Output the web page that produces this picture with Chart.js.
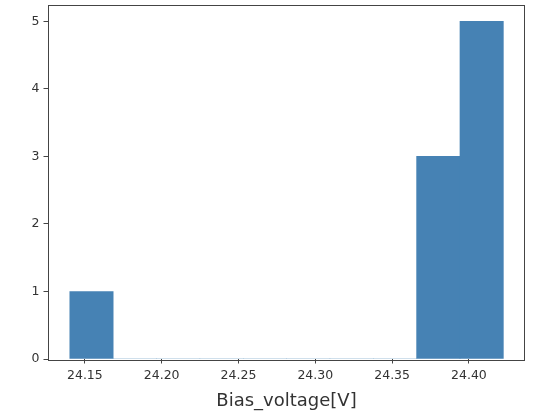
<!DOCTYPE html>
<html>
<head>
<meta charset="utf-8">
<script src="https://cdn.jsdelivr.net/npm/chart.js@4/dist/chart.umd.min.js"></script>
<style>
  html, body { margin: 0; padding: 0; background: #ffffff; }
  #wrap { width: 534px; height: 413px; }
</style>
</head>
<body>
<div id="wrap"><canvas id="c" width="534" height="413"></canvas></div>
<script>
// Histogram of bias voltage readings: 10 equal-width bins.
const binEdges = [24.1402, 24.16842, 24.19664, 24.22486, 24.25308, 24.2813,
                  24.30952, 24.33774, 24.36596, 24.39418, 24.4224];
const counts = [1, 0, 0, 0, 0, 0, 0, 0, 3, 5];
const xTicks = [24.15, 24.20, 24.25, 24.30, 24.35, 24.40];
const yTicks = [0, 1, 2, 3, 4, 5];
const xTitle = 'Bias_voltage[V]';

const points = counts.map((c, i) => ({ x: (binEdges[i] + binEdges[i + 1]) / 2, y: c }));

const FONT = 'DejaVu Sans';
const INK = '#333333';
const SPINE = '#444444';

// Draw the four-sided axes frame around the plotting area.
const framePlugin = {
  id: 'frame',
  afterDatasetsDraw(chart) {
    const { ctx, chartArea: a } = chart;
    ctx.save();
    ctx.strokeStyle = SPINE;
    ctx.lineWidth = 1;
    ctx.strokeRect(Math.round(a.left) + 0.5, Math.round(a.top) + 0.5,
                   Math.round(a.right - a.left) - 1, Math.round(a.bottom - a.top));
    ctx.restore();
  }
};

function noEdgePadding(scale) {
  scale.paddingTop = 0;
  scale.paddingBottom = 0;
  scale.paddingLeft = 0;
  scale.paddingRight = 0;
}

new Chart(document.getElementById('c'), {
  type: 'bar',
  data: {
    datasets: [{
      data: points,
      backgroundColor: '#4682b4',
      borderWidth: 0,
      barPercentage: 1,
      categoryPercentage: 1,
      grouped: false
    }]
  },
  options: {
    responsive: false,
    animation: false,
    layout: { padding: { top: 4.5, right: 9, left: 0, bottom: 0 } },
    plugins: { legend: { display: false }, tooltip: { enabled: false } },
    scales: {
      x: {
        type: 'linear',
        min: 24.126,
        max: 24.4365,
        offset: false,
        afterBuildTicks(scale) { scale.ticks = xTicks.map(v => ({ value: v })); },
        afterFit(scale) { scale.height = 54; noEdgePadding(scale); },
        grid: { offset: false, drawOnChartArea: false, drawTicks: true, tickLength: 4.5, color: SPINE },
        border: { display: false },
        ticks: {
          padding: 5,
          color: INK,
          font: { family: FONT, size: 12.5 },
          maxRotation: 0,
          autoSkip: false,
          callback: v => Number(v).toFixed(2)
        },
        title: {
          display: true,
          text: xTitle,
          color: INK,
          font: { family: FONT, size: 18 },
          padding: { top: 0, bottom: 1 }
        }
      },
      y: {
        min: 0,
        max: 5.25,
        afterBuildTicks(scale) { scale.ticks = yTicks.map(v => ({ value: v })); },
        afterFit(scale) { scale.width = 48; noEdgePadding(scale); },
        grid: { drawOnChartArea: false, drawTicks: true, tickLength: 4.5, color: SPINE },
        border: { display: false },
        ticks: {
          padding: 4,
          color: INK,
          font: { family: FONT, size: 12.5 },
          callback: v => String(v)
        }
      }
    }
  },
  plugins: [framePlugin]
});
</script>
</body>
</html>
